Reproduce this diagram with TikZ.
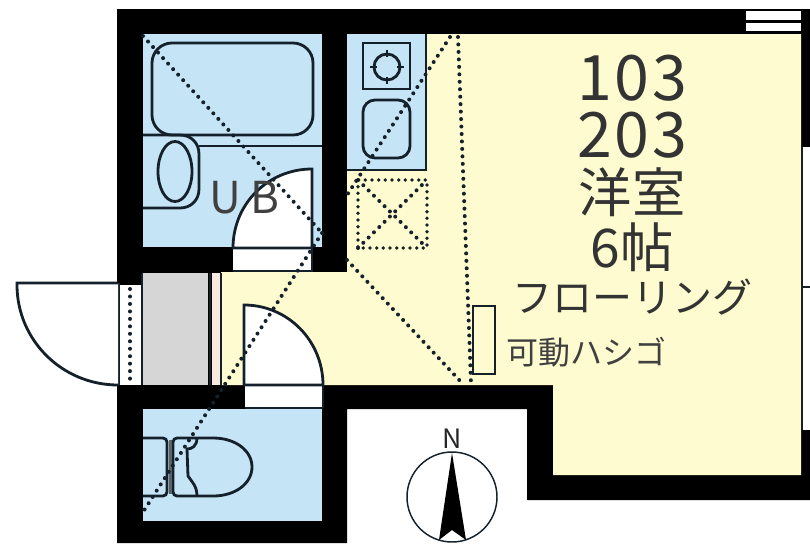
\documentclass[tikz,border=0pt]{standalone}
\usepackage{fontspec}
\setmainfont{Noto Sans CJK JP}
\definecolor{bathblue}{HTML}{C5E4F6}
\definecolor{roomyellow}{HTML}{FFFBD0}
\definecolor{entrygray}{HTML}{D6D6D6}
\definecolor{stepbeige}{HTML}{F8E9DF}
\definecolor{inkdark}{HTML}{14202A}
\tikzset{
  fixture/.style={draw=inkdark,line width=2.1pt},
  thinline/.style={draw=inkdark,line width=1.1pt},
  doorline/.style={draw=inkdark,line width=2.1pt,fill=white},
  dotline/.style={draw=inkdark,line width=3pt,line cap=round,dash pattern=on 0pt off 5.6pt},
  smalldots/.style={draw=inkdark,line width=2.8pt,line cap=round,dash pattern=on 0pt off 5pt},
  bigtext/.style={font=\fontsize{47}{47}\selectfont,text=black!80,inner sep=0pt},
  cjktext/.style={font=\fontsize{40}{40}\selectfont,text=black!80,inner sep=0pt},
  midtext/.style={font=\fontsize{30}{30}\selectfont,text=black!80,inner sep=0pt},
  smalltext/.style={font=\fontsize{24}{24}\selectfont,text=black!75,inner sep=0pt}
}
\begin{document}
\begin{tikzpicture}[x=0.75pt,y=-0.75pt]
\useasboundingbox (0,0) rectangle (810,543);
% walls
\fill[black] (117,9) -- (810,9) -- (810,500) -- (527,500) -- (527,409) -- (347,409) -- (347,543) -- (117,543) -- cycle;
% rooms
\fill[roomyellow] (347,34) -- (801,34) -- (801,475) -- (553,475) -- (553,385) -- (221,385) -- (221,272) -- (347,272) -- cycle;
\fill[bathblue] (143,34) rectangle (322,247);
\fill[bathblue] (347,34) rectangle (426,170);
\fill[bathblue] (143,409) rectangle (322,521);
\fill[entrygray] (143,273) rectangle (208,385);
\fill[stepbeige] (212,273) rectangle (221,385);
\draw[thinline] (426,34) -- (426,170) -- (347,170);
\draw[fixture] (210,273) -- (210,385);
\draw[thinline] (221,273) -- (221,385);
% windows
\fill[white] (746,11) rectangle (801,20);
\fill[white] (746,23) rectangle (801,31);
\fill[white] (802,147) rectangle (810,430);
\draw[thinline] (802,147) -- (802,430);
\draw[thinline] (803,287) -- (810,287);
% bath
\draw[fixture,rounded corners=15pt] (152,43) rectangle (313,135);
\draw[fixture] (143,135) -- (180,135) .. controls (191,135) and (199,143) .. (199,154) -- (199,189) .. controls (199,200) and (191,208) .. (180,208) -- (143,208);
\draw[fixture] (199,146) -- (322,146);
\draw[fixture] (175,171.5) ellipse[x radius=17,y radius=30];
% bath door
\fill[white] (233,248) rectangle (312,271);
\draw[doorline] (312,248) -- (312,169) .. controls (268,169) and (233,204) .. (233,248) -- cycle;
\draw[thinline] (233,271) -- (312,271) -- (312,248);
% kitchen
\draw[fixture] (363,43) rectangle (410,89);
\draw[fixture] (387,67) circle[radius=13];
\foreach \dx/\dy in {1/0,-1/0,0/1,0/-1}
  \draw[fixture] (387+10*\dx,67+10*\dy) -- (387+17*\dx,67+17*\dy);
\draw[fixture,rounded corners=9pt] (363,100) rectangle (410,158);
\draw[smalldots] (358,180) rectangle (427,248);
\draw[dotline] (358,180) -- (427,248);
\draw[dotline] (358,248) -- (427,180);
% entrance
\fill[white] (118,285) rectangle (143,385);
\draw[thinline] (119,283) -- (119,385);
\draw[thinline] (142,273) -- (142,385);
\draw[dotline] (130,289) -- (130,381);
\draw[doorline] (118,283) -- (17,283) -- (17,285) .. controls (17,340) and (62,385) .. (118,385);
% toilet door
\fill[white] (245,386) rectangle (323,407);
\draw[doorline] (244,385) -- (244,305) .. controls (288,305) and (323,341) .. (323,385) -- cycle;
\draw[thinline] (245,408) -- (323,408);
\draw[thinline] (323,385) -- (323,408);
% toilet
\draw[fixture,rounded corners=3pt] (143,438) -- (167,438) -- (167,496) -- (143,496);
\draw[fixture,rounded corners=3pt] (213,438) -- (173,438) -- (173,496) -- (213,496);
\draw[fixture] (213,438) .. controls (236,438) and (252,451) .. (252,467) .. controls (252,483) and (236,496) .. (213,496);
\draw[fixture] (197,438) .. controls (197,446) and (192,449) .. (187,449) -- (188,476) .. controls (192,482) and (197,486) .. (197,496);
\fill[inkdark!70] (168.5,440) rectangle (171.5,494);
% dotted lines
\draw[dotline] (143,36) -- (322,233);
\draw[dotline] (322,233) -- (143,512);
\draw[dotline] (450,37) -- (347,195);
\draw[dotline] (347,260) -- (462,383);
\draw[dotline] (458,37) -- (471,383);
% ladder
\draw[thinline,line width=1.6pt] (473,306) rectangle (495,374);
% compass
\draw[thinline] (452,497) circle[radius=45];
\fill[black] (452,453) -- (466,540) -- (452,530) -- (439,540) -- cycle;
% labels
\node[bigtext] (roomA) at (632,78) {1\kern2pt 0\kern2pt 3};
\node[bigtext] (roomB) at (632,135) {2\kern2pt 0\kern2pt 3};
\node[cjktext] (roomtype) at (632,192) {洋室};
\node[cjktext] (roomsize) at (632,247) {6帖};
\node[midtext] (floor) at (632,297) {フローリング};
\node[smalltext] (ladder) at (586,352) {可動ハシゴ};
\node[font=\fontsize{33}{33}\selectfont,text=black!75,inner sep=0pt] (bath) at (244,198) {U\kern7pt B};
\node[font=\fontsize{20}{20}\selectfont,text=black!85,inner sep=0pt] (north) at (452,439) {N};
\end{tikzpicture}
\end{document}
